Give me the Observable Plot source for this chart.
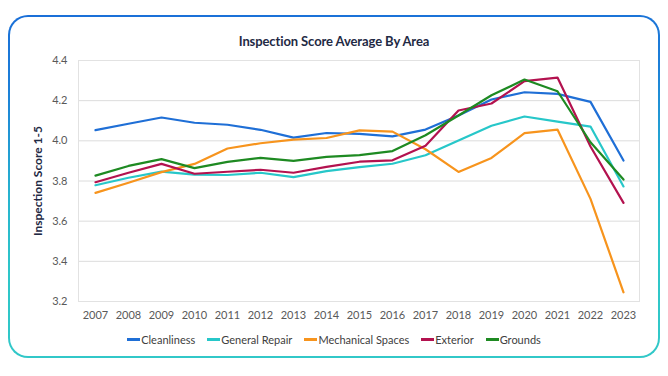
<!DOCTYPE html>
<html>
<head>
<meta charset="utf-8">
<script src="https://cdn.jsdelivr.net/npm/d3@7"></script>
<script src="https://cdn.jsdelivr.net/npm/@observablehq/plot@0.6"></script>
<style>
  html, body { margin: 0; padding: 0; background: #fff; }
  body { width: 668px; height: 376px; position: relative; overflow: hidden; font-family: Lato, "Open Sans", sans-serif; }
  #card {
    position: absolute; left: 8px; top: 15px; width: 652px; height: 343px;
    border-radius: 20px; padding: 2px; box-sizing: border-box;
    background: linear-gradient(178deg, #1a6fd8 0%, #1c7fd8 20%, #27b4cf 50%, #2ec6c9 70%, #32c8c8 100%);
  }
  #card-inner { width: 100%; height: 100%; background: #fff; border-radius: 18px; }
  #title {
    position: absolute; left: 0; width: 668px; top: 33px; text-align: center;
    font-weight: 700; font-size: 13px; color: #1f2a44; letter-spacing: -0.1px;
  }
  #ylabel {
    position: absolute; left: 37px; top: 181px; transform: translate(-50%, -50%) rotate(-90deg);
    white-space: nowrap; font-weight: 700; font-size: 12px; color: #1f2a44;
  }
  #chart { position: absolute; left: 0; top: 0; }
  #legend {
    position: absolute; left: 0; width: 668px; top: 333px; display: flex; justify-content: center;
    gap: 12px; font-size: 11px; color: #404040; padding-left: 0; box-sizing: border-box;
  }
  .item { display: flex; align-items: center; }
  .sw { width: 13px; height: 2.5px; margin-right: 1px; }
</style>
</head>
<body>
<div id="card"><div id="card-inner"></div></div>
<div id="title">Inspection Score Average By Area</div>
<div id="ylabel">Inspection Score 1-5</div>
<div id="chart"></div>
<div id="legend"></div>
<script>
const years = ["2007","2008","2009","2010","2011","2012","2013","2014","2015","2016","2017","2018","2019","2020","2021","2022","2023"];
const seriesNames = ["Cleanliness","General Repair","Mechanical Spaces","Exterior","Grounds"];
const seriesColors = ["#1f6fd6","#27c7c9","#f7941d","#b3124f","#1e8a22"];
const cleanliness      = [4.053,4.085,4.116,4.090,4.080,4.055,4.016,4.039,4.035,4.022,4.056,4.126,4.206,4.242,4.234,4.194,3.902];
const generalRepair    = [3.779,3.816,3.847,3.832,3.830,3.841,3.819,3.849,3.869,3.886,3.928,4.002,4.075,4.121,4.096,4.071,3.773];
const mechanicalSpaces = [3.741,3.791,3.844,3.885,3.962,3.988,4.006,4.014,4.052,4.046,3.958,3.845,3.915,4.038,4.056,3.711,3.246];
const exterior         = [3.794,3.841,3.885,3.836,3.846,3.856,3.841,3.870,3.896,3.903,3.976,4.151,4.186,4.297,4.315,3.972,3.691];
const grounds          = [3.827,3.875,3.909,3.864,3.895,3.915,3.900,3.920,3.929,3.949,4.028,4.126,4.227,4.305,4.247,3.993,3.807];
const yTicks = [3.2,3.4,3.6,3.8,4.0,4.2,4.4];

const allSeries = [cleanliness, generalRepair, mechanicalSpaces, exterior, grounds];
const data = [];
seriesNames.forEach((name, i) => {
  years.forEach((yr, j) => data.push({series: name, year: yr, value: allSeries[i][j]}));
});

const chart = Plot.plot({
  width: 668,
  height: 330,
  marginLeft: 78,
  marginRight: 29,
  marginTop: 60,
  marginBottom: 29,
  style: {fontFamily: "Lato, 'Open Sans', sans-serif", fontSize: "11px", color: "#595959", background: "transparent"},
  x: {type: "point", domain: years, padding: 0.5, label: null},
  y: {domain: [3.2, 4.4], label: null},
  color: {domain: seriesNames, range: seriesColors},
  marks: [
    Plot.ruleY(yTicks, {stroke: "#dcdcdc", strokeWidth: 1}),
    Plot.frame({stroke: "#e2e2e2", strokeWidth: 1}),
    Plot.axisX({tickSize: 0, tickPadding: 10, fontSize: 11, fill: "#595959"}),
    Plot.axisY({ticks: yTicks, tickFormat: d3.format(".1f"), tickSize: 0, tickPadding: 11, fontSize: 11, fill: "#595959"}),
    Plot.line(data, {x: "year", y: "value", z: "series", stroke: "series", strokeWidth: 2.2, curve: "linear"})
  ]
});
document.getElementById("chart").appendChild(chart);

const legend = document.getElementById("legend");
seriesNames.forEach((name, i) => {
  const it = document.createElement("div");
  it.className = "item";
  const sw = document.createElement("span");
  sw.className = "sw";
  sw.style.background = seriesColors[i];
  const tx = document.createElement("span");
  tx.textContent = name;
  it.appendChild(sw); it.appendChild(tx);
  legend.appendChild(it);
});
</script>
</body>
</html>
